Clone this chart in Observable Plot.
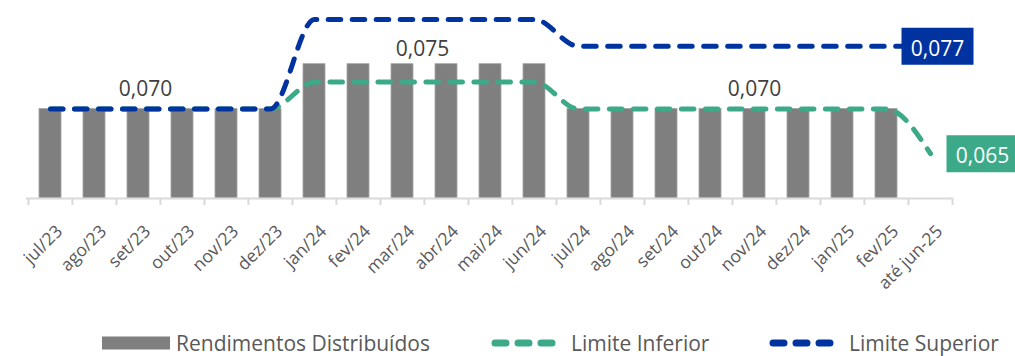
<!DOCTYPE html>
<html><head><meta charset="utf-8">
<script src="https://cdn.jsdelivr.net/npm/d3@7"></script>
<script src="https://cdn.jsdelivr.net/npm/@observablehq/plot@0.6"></script>
<style>
body{margin:0;background:#fff;font-family:"Open Sans",sans-serif;}
#wrap{position:relative;width:1015px;height:356px;overflow:hidden;}
#legend{position:absolute;left:0;top:330px;width:1015px;height:26px;}
.li{position:absolute;top:0;height:26px;display:flex;align-items:center;font-size:21px;color:#595959;white-space:nowrap;}
</style></head><body>
<div id="wrap"><div id="chart"></div><div id="legend"></div></div>
<script>
const categories = ["jul/23","ago/23","set/23","out/23","nov/23","dez/23","jan/24","fev/24","mar/24","abr/24","mai/24","jun/24","jul/24","ago/24","set/24","out/24","nov/24","dez/24","jan/25","fev/25","até jun-25"];
const rendimentos = [0.070,0.070,0.070,0.070,0.070,0.070,0.075,0.075,0.075,0.075,0.075,0.075,0.070,0.070,0.070,0.070,0.070,0.070,0.070,0.070,null];
const limiteInferior = [0.070,0.070,0.070,0.070,0.070,0.070,0.073,0.073,0.073,0.073,0.073,0.073,0.070,0.070,0.070,0.070,0.070,0.070,0.070,0.070,0.065];
const limiteSuperior = [0.070,0.070,0.070,0.070,0.070,0.070,0.080,0.080,0.080,0.080,0.080,0.080,0.077,0.077,0.077,0.077,0.077,0.077,0.077,0.077,0.077];
const labelCategories = ["set/23","mar/24","nov/24"];
const labelValues = [0.070,0.075,0.070];
const seriesNames = ["Rendimentos Distribuídos","Limite Inferior","Limite Superior"];
const yBase = 0.06;
const yTop = 0.082;

const W = 1015, H = 330, mL = 26, mR = 62, mT = 1, mB = 132;
const step = (W - mL - mR) / categories.length;
const GRAY = "#7f7f7f", GREEN = "#3caa88", BLUE = "#0033a0", AX = "#d9d9d9";
const fmt = v => v.toFixed(3).replace(".", ",");
const rows = categories.map((c, i) => ({cat: c, r: rendimentos[i], inf: limiteInferior[i], sup: limiteSuperior[i]}));
const last = rows[rows.length - 1];
const labelRows = labelCategories.map((c, i) => ({cat: c, v: labelValues[i]}));
const labelOffsets = [[7, -20], [20, -15], [0, -20]];
const boxSymbol = {draw(ctx) { ctx.rect(-36, -18.5, 72, 37); }};
const font = "Open Sans";

const chart = Plot.plot({
  width: W, height: H, marginLeft: mL, marginRight: mR, marginTop: mT, marginBottom: mB,
  style: {fontFamily: font, background: "#fff", overflow: "visible"},
  x: {type: "band", domain: categories, paddingInner: 0.5, paddingOuter: 0.25, axis: null},
  y: {domain: [yBase, yTop], axis: null},
  marks: [
    Plot.barY(rows.filter(d => d.r != null), {x: "cat", y1: () => yBase, y2: "r", fill: GRAY, stroke: "#a6a6a6", strokeWidth: 0.8}),
    Plot.ruleY([yBase], {stroke: AX, strokeWidth: 2}),
    Plot.ruleX(categories, {x: d => d, y1: () => yBase, y2: () => yBase, dx: -step / 2, insetBottom: -7, stroke: AX, strokeWidth: 2}),
    Plot.ruleX([categories[categories.length - 1]], {x: d => d, y1: () => yBase, y2: () => yBase, dx: step / 2, insetBottom: -7, stroke: AX, strokeWidth: 2}),
    Plot.line(rows, {x: "cat", y: "inf", stroke: GREEN, strokeWidth: 5, strokeDasharray: "12.5,11.5", strokeLinecap: "round", curve: "monotone-x"}),
    Plot.line(rows, {x: "cat", y: "sup", stroke: BLUE, strokeWidth: 5, strokeDasharray: "12.5,11.5", strokeLinecap: "round", curve: "monotone-x"}),
    ...labelRows.map((d, i) => Plot.text([d], {x: "cat", y: "v", text: e => fmt(e.v), dx: labelOffsets[i][0], dy: labelOffsets[i][1], fontSize: 21, fill: "#404040"})),
    Plot.dot([last], {x: "cat", y: "sup", symbol: boxSymbol, fill: BLUE, stroke: "none", dx: 7}),
    Plot.text([last], {x: "cat", y: "sup", text: d => fmt(d.sup), fill: "#fff", fontSize: 21, fontWeight: 500, dx: 7, dy: 3}),
    Plot.dot([last], {x: "cat", y: "inf", symbol: boxSymbol, fill: GREEN, stroke: "none", dx: 52}),
    Plot.text([last], {x: "cat", y: "inf", text: d => fmt(d.inf), fill: "#fff", fontSize: 21, fontWeight: 500, dx: 52, dy: 3}),
    Plot.text(categories, {x: d => d, y: () => yBase, text: d => d, rotate: -45, textAnchor: "end", lineAnchor: "middle", dx: 9, dy: 30, fontSize: 17.5, fill: "#595959"})
  ]
});
document.getElementById("chart").appendChild(chart);

// legend
const legend = document.getElementById("legend");
const items = [
  {left: 102, sw: `<svg width="68" height="14"><rect x="0" y="0.5" width="68" height="13" fill="${GRAY}"/></svg>`, gap: 6, name: seriesNames[0]},
  {left: 491, sw: `<svg width="72" height="14"><line x1="4" y1="7" x2="68" y2="7" stroke="${GREEN}" stroke-width="7" stroke-linecap="round" stroke-dasharray="11,12"/></svg>`, gap: 8, name: seriesNames[1]},
  {left: 769, sw: `<svg width="72" height="14"><line x1="4" y1="7" x2="68" y2="7" stroke="${BLUE}" stroke-width="7" stroke-linecap="round" stroke-dasharray="11,12"/></svg>`, gap: 8, name: seriesNames[2]}
];
for (const it of items) {
  const d = document.createElement("div");
  d.className = "li";
  d.style.left = it.left + "px";
  d.innerHTML = it.sw + `<span style="margin-left:${it.gap}px">${it.name}</span>`;
  legend.appendChild(d);
}
</script>
</body></html>
